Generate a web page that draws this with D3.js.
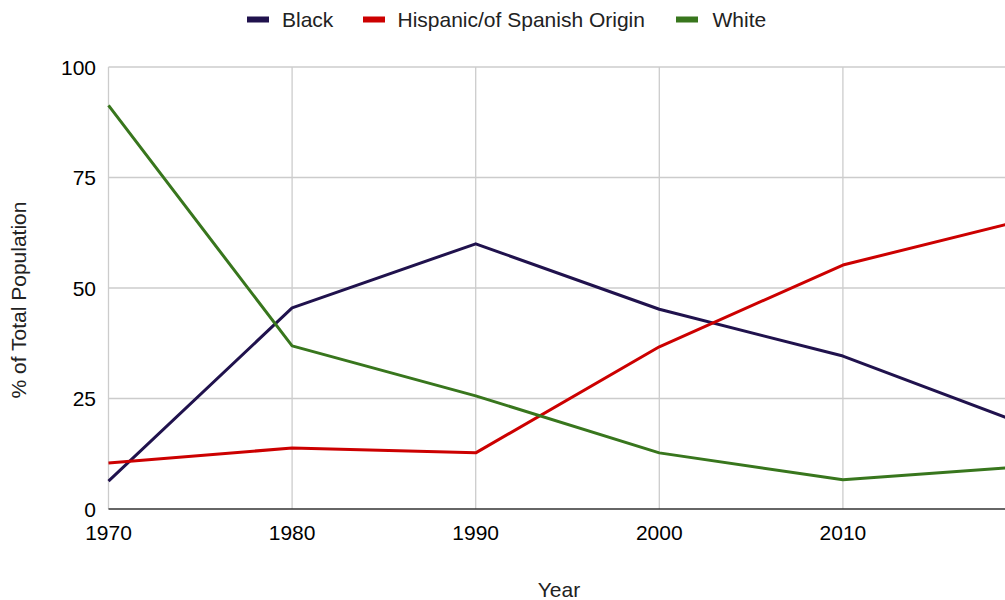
<!DOCTYPE html>
<html>
<head>
<meta charset="utf-8">
<script src="https://cdn.jsdelivr.net/npm/d3@7"></script>
<style>
  html, body { margin: 0; padding: 0; background: #fff; }
  svg { display: block; font-family: "Liberation Sans", Arial, sans-serif; }
</style>
</head>
<body>
<svg id="chart" width="1005" height="600"></svg>
<script>
const years = [1970, 1980, 1990, 2000, 2010, 2019];
const black = [6.3, 45.5, 60.0, 45.2, 34.6, 20.5];
const hispanic = [10.4, 13.8, 12.7, 36.7, 55.2, 64.5];
const white = [91.3, 36.9, 25.6, 12.7, 6.6, 9.3];
const seriesNames = ["Black", "Hispanic/of Spanish Origin", "White"];
const seriesColors = ["#20124d", "#cc0000", "#38761d"];
const xTicks = [1970, 1980, 1990, 2000, 2010];
const yTicks = [0, 25, 50, 75, 100];

(function () {
const svg = d3.select("#chart");
const plotLeft = 108.5, plotBottom = 509, plotTop = 67;
const x = d3.scaleLinear().domain([1970, 2019]).range([plotLeft, plotLeft + 4.9 * 183.6]);
const y = d3.scaleLinear().domain([0, 100]).range([plotBottom, plotTop]);

// gridlines
svg.append("g").selectAll("line").data(yTicks.filter(d => d > 0)).join("line")
  .attr("x1", plotLeft).attr("x2", 1005)
  .attr("y1", d => y(d)).attr("y2", d => y(d))
  .attr("stroke", "#cccccc").attr("stroke-width", 1.3);
svg.append("g").selectAll("line").data(xTicks).join("line")
  .attr("x1", d => x(d)).attr("x2", d => x(d))
  .attr("y1", plotTop).attr("y2", plotBottom)
  .attr("stroke", "#cccccc").attr("stroke-width", 1.3);

// baseline
svg.append("line").attr("x1", plotLeft).attr("x2", 1005).attr("y1", plotBottom).attr("y2", plotBottom)
  .attr("stroke", "#333333").attr("stroke-width", 1.3);

// y tick labels
svg.append("g").selectAll("text").data(yTicks).join("text")
  .attr("x", 96).attr("y", d => y(d)).attr("dy", "0.36em")
  .attr("text-anchor", "end").attr("font-size", 21).attr("fill", "#000")
  .text(d => d);

// x tick labels
svg.append("g").selectAll("text").data(xTicks).join("text")
  .attr("x", d => x(d)).attr("y", 540)
  .attr("text-anchor", "middle").attr("font-size", 21).attr("fill", "#000")
  .text(d => d);

// axis titles
svg.append("text").attr("x", 559).attr("y", 597).attr("text-anchor", "middle")
  .attr("font-size", 21).attr("fill", "#222").text("Year");
svg.append("text").attr("transform", "translate(26,300) rotate(-90)")
  .attr("text-anchor", "middle").attr("font-size", 21).attr("fill", "#222")
  .text("% of Total Population");

// lines
const data = [black, hispanic, white];
const line = d3.line().x((d, i) => x(years[i])).y(d => y(d));
svg.append("g").selectAll("path").data(data).join("path")
  .attr("d", d => line(d))
  .attr("fill", "none")
  .attr("stroke", (d, i) => seriesColors[i])
  .attr("stroke-width", 3)
  .attr("stroke-linejoin", "round");

// legend
const swatchX = [247, 363, 676];
const textX = [282, 397.5, 712.5];
const lg = svg.append("g").selectAll("g").data(seriesNames).join("g");
lg.append("rect").attr("x", (d, i) => swatchX[i]).attr("y", 16.5).attr("width", 22).attr("height", 6)
  .attr("fill", (d, i) => seriesColors[i]);
lg.append("text").attr("x", (d, i) => textX[i]).attr("y", 26.5).attr("font-size", 21).attr("fill", "#222")
  .text(d => d);
})();
</script>
</body>
</html>
